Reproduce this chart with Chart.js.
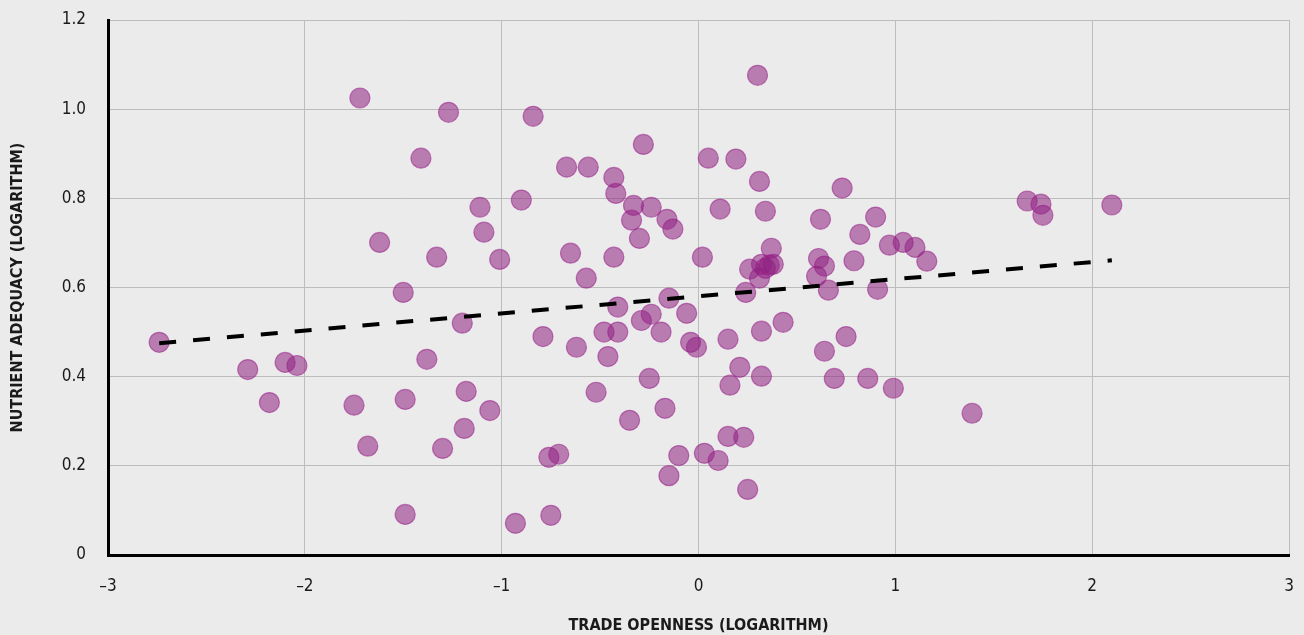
<!DOCTYPE html>
<html>
<head>
<meta charset="utf-8">
<script src="https://cdn.jsdelivr.net/npm/chart.js@4"></script>
<style>
  html, body { margin:0; padding:0; background:#ebebeb; }
  #wrap { width:1304px; height:635px; position:relative; }
</style>
</head>
<body>
<div id="wrap"><canvas id="scatter"></canvas></div>
<script>
/* trade openness vs nutrient adequacy, both logs */

const openness = [
  -2.74, -2.29, -2.18, -2.10, -2.04, -1.72, -1.75, -1.68, -1.62, -1.41,
  -1.38, -1.50, -1.49, -1.49, -1.33, -1.30, -1.27, -1.20, -1.18, -1.19,
  -1.11, -1.09, -1.06, -1.01, -0.90, -0.93, -0.84, -0.79, -0.76, -0.71,
  -0.75, -0.67, -0.65, -0.62, -0.57, -0.56, -0.52, -0.43, -0.42, -0.43,
  -0.48, -0.46, -0.41, -0.41, -0.35, -0.33, -0.34, -0.30, -0.28, -0.29,
  -0.25, -0.24, -0.24, -0.19, -0.16, -0.13, -0.15, -0.17, -0.15, -0.10,
  -0.06, -0.04, -0.01,  0.02,  0.03,  0.05,  0.10,  0.11,  0.15,  0.16,
   0.15,  0.19,  0.21,  0.23,  0.25,  0.24,  0.26,  0.30,  0.31,  0.31,
   0.32,  0.34,  0.36,  0.32,  0.32,  0.34,  0.37,  0.38,  0.43,  0.62,
   0.61,  0.60,  0.64,  0.64,  0.66,  0.69,  0.73,  0.75,  0.79,  0.82,
   0.86,  0.90,  0.91,  0.97,  0.99,  1.04,  1.10,  1.16,  1.39,  1.67,
   1.74,  1.75,  2.10
];

const adequacy = [
  0.477, 0.416, 0.342, 0.432, 0.425, 1.025, 0.336, 0.244, 0.701, 0.890,
  0.439, 0.589, 0.349, 0.091, 0.668, 0.239, 0.993, 0.520, 0.367, 0.284,
  0.780, 0.724, 0.324, 0.663, 0.796, 0.071, 0.984, 0.490, 0.219, 0.226,
  0.089, 0.870, 0.677, 0.466, 0.621, 0.870, 0.365, 0.847, 0.811, 0.668,
  0.500, 0.445, 0.556, 0.500, 0.302, 0.784, 0.751, 0.710, 0.921, 0.526,
  0.396, 0.780, 0.540, 0.500, 0.753, 0.731, 0.576, 0.329, 0.178, 0.223,
  0.542, 0.477, 0.466, 0.668, 0.228, 0.890, 0.212, 0.776, 0.484, 0.381,
  0.266, 0.888, 0.421, 0.264, 0.147, 0.589, 0.641, 1.076, 0.838, 0.621,
  0.652, 0.643, 0.650, 0.502, 0.401, 0.771, 0.688, 0.652, 0.522, 0.753,
  0.665, 0.625, 0.648, 0.457, 0.594, 0.396, 0.823, 0.490, 0.660, 0.719,
  0.396, 0.758, 0.596, 0.695, 0.374, 0.701, 0.690, 0.659, 0.318, 0.794,
  0.787, 0.762, 0.785
];

// fitted line, start and end
const trendX = [-2.74, 2.10];
const trendY = [0.475, 0.661];

const xTicks = [-3, -2, -1, 0, 1, 2, 3];
const yTicks = [0, 0.2, 0.4, 0.6, 0.8, 1.0, 1.2];

const FONT = "'Liberation Sans Narrow', 'DejaVu Sans Condensed', 'Liberation Sans', sans-serif";
const INK  = '#1a1a1a';
const GRID = '#bcbcbc';

const points = openness.map((x, i) => ({ x, y: adequacy[i] }));
const trend  = trendX.map((x, i) => ({ x, y: trendY[i] }));

new Chart(document.getElementById('scatter').getContext('2d'), {
  type: 'scatter',
  data: {
    datasets: [
      { label:'Trend', type:'line', data:trend, order:0,
        borderColor:'#000', borderWidth:4, borderDash:[17,17],
        pointRadius:0, fill:false, tension:0 },
      { label:'Countries', data:points, order:1,
        backgroundColor:'rgba(144,33,130,0.55)', borderColor:'rgba(150,30,135,0.55)',
        borderWidth:1.2, pointRadius:10, pointHoverRadius:10 },
    ],
  },
  options: {
    responsive: true,
    maintainAspectRatio: false,
    animation: false,
    layout: { autoPadding:false, padding:{ left:0, right:15, top:20, bottom:0 } },
    scales: {
      x: {
        type:'linear', min:-3, max:3,
        // fixed band under the plot; no extra side padding for end labels
        afterFit: s => { s.height = 80; s.paddingLeft = 0; s.paddingRight = 0; },
        afterBuildTicks: s => { s.ticks = xTicks.map(v => ({ value:v })); },
        grid: { color:GRID, lineWidth:1, drawTicks:false },
        border: { color:'#000', width:3 },
        ticks: { color:INK, padding:21, font:{ family:FONT, size:17 },
          callback: v => v < 0 ? '\u2013' + Math.abs(v) : String(v) },
        title: { display:true, text:'TRADE OPENNESS (LOGARITHM)', color:INK,
          font:{ family:FONT, size:16, weight:'bold' }, padding:{ top:0, bottom:0 } },
      },
      y: {
        type:'linear', min:0, max:1.2,
        afterFit: s => { s.width = 108; s.paddingTop = 0; s.paddingBottom = 0; },
        afterBuildTicks: s => { s.ticks = yTicks.map(v => ({ value:v })); },
        grid: { color:GRID, lineWidth:1, drawTicks:false },
        border: { color:'#000', width:3 },
        ticks: { color:INK, padding:22, font:{ family:FONT, size:17 },
          callback: v => v === 0 ? '0' : v.toFixed(1) },
        title: { display:true, text:'NUTRIENT ADEQUACY (LOGARITHM)', color:INK,
          font:{ family:FONT, size:16, weight:'bold' }, padding:{ top:8, bottom:0 } },
      },
    },
    plugins: { legend:{ display:false }, tooltip:{ enabled:false } },
  },
});
</script>
</body>
</html>
